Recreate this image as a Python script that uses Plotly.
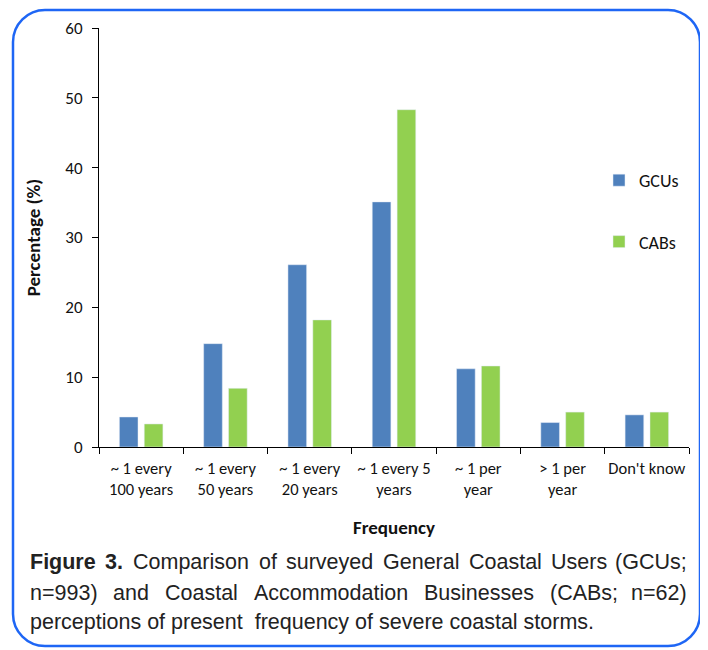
import plotly.graph_objects as go

categories = ["~ 1 every<br>100 years", "~ 1 every<br>50 years", "~ 1 every<br>20 years",
              "~ 1 every 5<br>years", "~ 1 per<br>year", "> 1 per<br>year", "Don't know"]
gcus = [4.3, 14.8, 26.1, 35.1, 11.2, 3.5, 4.6]
cabs = [3.3, 8.4, 18.2, 48.3, 11.6, 5.0, 5.0]
y_ticks = [0, 10, 20, 30, 40, 50, 60]

# the page body adds an 8px margin, so the figure is drawn 8px smaller/shifted
OFF = 8
W, H = 708 - OFF, 650 - OFF
L, R, T, B = 99 - OFF, 689 - OFF, 28 - OFF, 447 - OFF  # plot area in figure pixels


def px(x):  # reference-image pixel -> paper
    return (x - OFF - L) / (R - L)


def py(y):
    return (B - (y - OFF)) / (B - T)


chart_font = "Carlito, Lato, Calibri, sans-serif"
cap_font = "Liberation Sans, Arial, sans-serif"

fig = go.Figure()
fig.add_trace(go.Bar(x=categories, y=gcus, name="GCUs", marker_color="#4F81BD",
                     legendgroup="g1"))
fig.add_trace(go.Bar(x=categories, y=cabs, name="CABs", marker_color="#92D050",
                     legendgroup="g2"))

# rounded border
x0, x1, y0, y1, r = 13, 700, 10, 646, 32
k = 0.45
path = (f"M{px(x0 + r)},{py(y0)} L{px(x1 - r)},{py(y0)} "
        f"C{px(x1 - r * k)},{py(y0)} {px(x1)},{py(y0 + r * k)} {px(x1)},{py(y0 + r)} "
        f"L{px(x1)},{py(y1 - r)} "
        f"C{px(x1)},{py(y1 - r * k)} {px(x1 - r * k)},{py(y1)} {px(x1 - r)},{py(y1)} "
        f"L{px(x0 + r)},{py(y1)} "
        f"C{px(x0 + r * k)},{py(y1)} {px(x0)},{py(y1 - r * k)} {px(x0)},{py(y1 - r)} "
        f"L{px(x0)},{py(y0 + r)} "
        f"C{px(x0)},{py(y0 + r * k)} {px(x0 + r * k)},{py(y0)} {px(x0 + r)},{py(y0)} Z")
fig.add_shape(type="path", path=path, xref="paper", yref="paper",
              line=dict(color="#1E66F5", width=2.5), layer="above")

cap_size = 21.5
cap_color = "#222222"
# (word, left x) ; the last word of a justified line is right-aligned at 689
line1 = [("<b>Figure</b>", 28), ("<b>3.</b>", 103), ("Comparison", 131), ("of", 257),
         ("surveyed", 284), ("General", 381), ("Coastal", 467), ("Users", 549)]
line1_last = "(GCUs;"
line2 = [("n=993)", 28), ("and", 111), ("Coastal", 163), ("Accommodation", 252),
         ("Businesses", 422), ("(CABs;", 548)]
line2_last = "n=62)"
line3 = [("perceptions of present  frequency of severe coastal storms.", 28)]
for words, last, yc in [(line1, line1_last, 562), (line2, line2_last, 593), (line3, None, 622)]:
    for w, xl in words:
        fig.add_annotation(text=w, x=px(xl), y=py(yc), xref="paper", yref="paper",
                           xanchor="left", yanchor="middle", showarrow=False,
                           font=dict(family=cap_font, size=cap_size, color=cap_color))
    if last:
        fig.add_annotation(text=last, x=px(689), y=py(yc), xref="paper", yref="paper",
                           xanchor="right", yanchor="middle", showarrow=False,
                           font=dict(family=cap_font, size=cap_size, color=cap_color))

fig.update_layout(
    width=W, height=H,
    margin=dict(l=L, r=W - R, t=T, b=H - B, autoexpand=False),
    paper_bgcolor="white", plot_bgcolor="white",
    barmode="group", bargap=0.41, bargroupgap=0.25,
    font=dict(family=chart_font, size=17, color="#111111"),
    showlegend=True,
    legend=dict(x=px(599), y=py(211), xanchor="left", yanchor="middle",
                tracegroupgap=35, font=dict(size=18), bgcolor="rgba(0,0,0,0)",
                itemwidth=30),
    xaxis=dict(showline=True, linecolor="black", linewidth=1.2, ticks="outside",
               tickson="boundaries", ticklen=6, tickcolor="black", showgrid=False,
               tickfont=dict(size=16.5), tickangle=0, ticklabelstandoff=6,
               title=dict(text="<b>Frequency</b>", font=dict(size=19), standoff=22)),
    yaxis=dict(range=[0, 60], tickvals=y_ticks, showline=True, linecolor="black",
               linewidth=1.2, ticks="outside", ticklen=6, tickcolor="black",
               showgrid=False, zeroline=False, tickfont=dict(size=17),
               ticklabelstandoff=6,
               title=dict(text="<b>Percentage (%)</b>", font=dict(size=19), standoff=19)),
)

fig.write_html("out.html")
